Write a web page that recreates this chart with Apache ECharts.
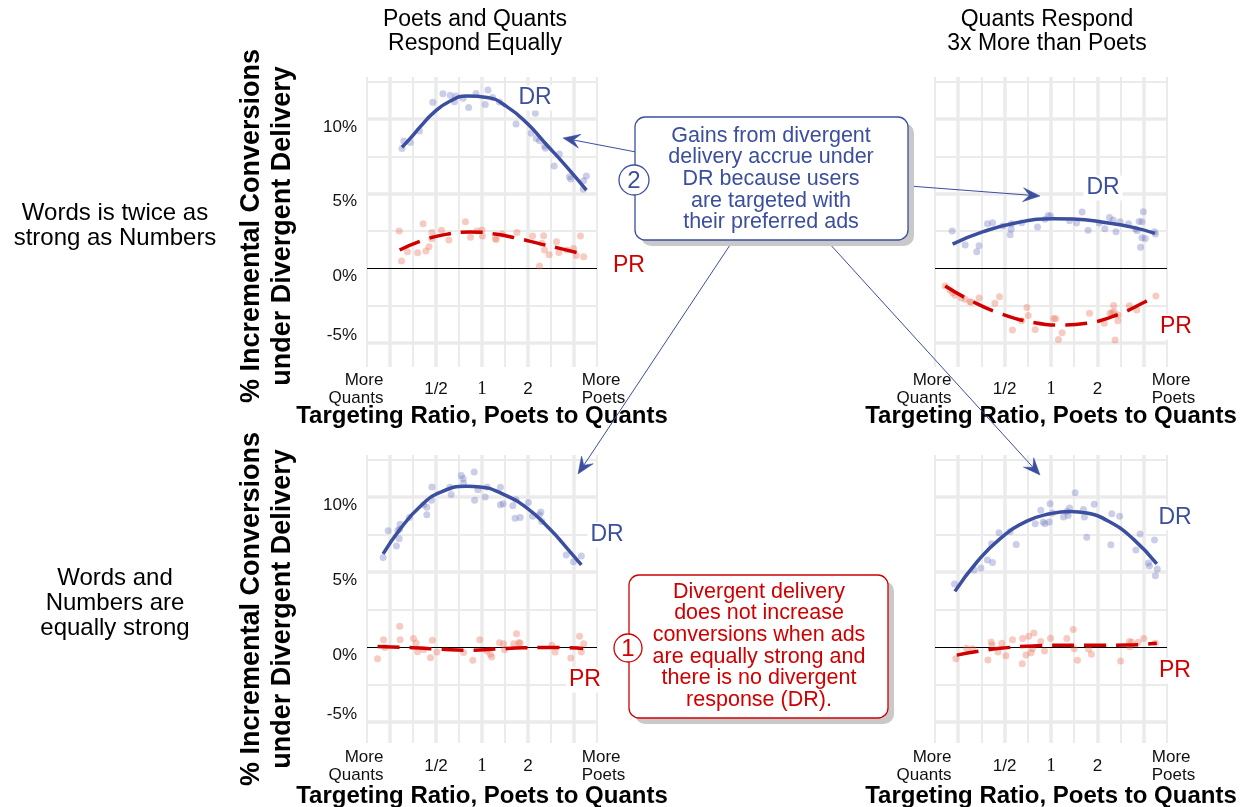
<!DOCTYPE html>
<html><head><meta charset="utf-8">
<script src="https://cdn.jsdelivr.net/npm/echarts@6/dist/echarts.min.js"></script>
<style>html,body{margin:0;padding:0;background:#fff}#c{width:1245px;height:807px}</style>
</head><body><div id="c"></div>
<script>
// ---------- data (x = log2 of targeting ratio Poets:Quants, y = % incremental conversions) ----------
const xTickValues = [-2.5, -1, 0, 1, 2.5];
const xTickLabels = ['More\nQuants', '1/2', '1', '2', 'More\nPoets'];
const yTickValues = [-5, 0, 5, 10];
const yTickLabels = ['-5%', '0%', '5%', '10%'];
const xMajorGrid = [-2, -1, 0, 1, 2];
const xMinorGrid = [-2.5, -1.5, -0.5, 0.5, 1.5, 2.5];
const yMajorGrid = [-5, 5, 10];
const yMinorGrid = [-2.5, 2.5, 7.5, 12.5];
const colTitles = ['Poets and Quants\nRespond Equally', 'Quants Respond\n3x More than Poets'];
const rowLabels = ['Words is twice as\nstrong as Numbers', 'Words and\nNumbers are\nequally strong'];
const yTitle = '% Incremental Conversions\nunder Divergent Delivery';
const xTitle = 'Targeting Ratio, Poets to Quants';
const note2 = 'Gains from divergent\ndelivery accrue under\nDR because users\nare targeted with\ntheir preferred ads';
const note1 = 'Divergent delivery\ndoes not increase\nconversions when ads\nare equally strong and\nthere is no divergent\nresponse (DR).';

// top-left: Words 2x, equal response
const tlDR = [[-1.74,8.03],[-1.70,8.52],[-1.56,8.43],[-1.36,9.19],[-1.07,11.12],[-0.85,11.70],[-0.69,11.59],[-0.60,11.16],[-0.57,11.54],[-0.41,11.39],[-0.29,10.78],[-0.13,11.72],[0.07,10.98],[0.13,11.95],[0.23,11.45],[0.38,11.14],[0.74,9.66],[1.16,10.38],[1.07,9.04],[1.18,8.70],[1.25,8.55],[1.36,8.19],[1.38,8.04],[1.68,7.65],[1.57,6.85],[1.90,6.13],[1.93,5.97],[2.20,5.28],[2.21,5.86],[2.27,6.17]];
const tlPR = [[-1.80,2.48],[-1.75,0.47],[-1.62,1.10],[-1.40,1.03],[-1.28,2.98],[-1.22,1.14],[-1.15,1.43],[-1.09,2.39],[-1.09,1.97],[-0.88,2.53],[-0.72,1.88],[-0.36,3.11],[-0.25,2.06],[-0.11,2.48],[0.00,2.55],[0.01,2.15],[0.29,1.99],[0.31,1.92],[0.44,2.28],[0.76,2.39],[1.10,2.15],[1.25,0.13],[1.30,1.66],[1.34,2.17],[1.36,1.21],[1.46,0.89],[1.62,1.77],[1.67,1.05],[1.85,1.21],[1.99,1.32],[2.05,0.85],[2.14,2.15],[2.21,0.76]];
const tlDRFit = [[-1.74,8.10],[-1.56,8.70],[-1.34,9.49],[-1.05,10.43],[-0.69,11.21],[-0.33,11.54],[0.11,11.45],[0.54,10.83],[0.98,9.71],[1.41,8.26],[1.85,6.76],[2.27,5.23]];
const tlPRFit = [[-1.79,1.21],[-1.27,1.88],[-0.71,2.30],[-0.25,2.42],[0.25,2.30],[0.76,2.00],[1.27,1.62],[1.78,1.25],[2.21,0.92]];

// top-right: Words 2x, Quants respond 3x
const trDR = [[-2.13,2.48],[-1.85,1.54],[-1.60,1.10],[-1.55,1.50],[-1.37,2.98],[-1.26,3.04],[-1.04,2.82],[-0.88,2.24],[-0.86,2.60],[-0.85,2.98],[-0.63,3.04],[-0.29,2.75],[-0.13,3.27],[-0.06,3.53],[-0.01,3.49],[0.40,3.18],[0.55,3.02],[0.67,3.76],[0.80,2.53],[1.04,3.02],[1.16,2.64],[1.26,3.40],[1.34,3.22],[1.40,2.44],[1.49,3.11],[1.67,2.98],[1.82,2.62],[1.86,2.51],[1.90,3.13],[1.93,1.39],[1.96,3.11],[1.96,2.04],[1.99,3.78],[2.03,1.99],[2.23,2.44],[2.25,2.28]];
const trPR = [[-2.28,-1.21],[-2.18,-1.48],[-2.12,-1.66],[-2.07,-1.83],[-1.93,-2.01],[-1.85,-2.10],[-1.75,-2.26],[-1.72,-2.30],[-1.55,-2.01],[-1.21,-2.37],[-1.11,-1.92],[-0.83,-4.16],[-0.63,-3.53],[-0.52,-2.64],[-0.49,-3.18],[-0.34,-4.12],[0.06,-3.38],[0.10,-3.40],[0.16,-4.79],[0.24,-4.34],[0.83,-3.04],[1.15,-3.71],[1.27,-3.04],[1.32,-3.00],[1.35,-2.51],[1.38,-4.83],[1.36,-2.93],[1.44,-3.53],[1.45,-3.15],[1.69,-2.53],[1.85,-2.82],[2.26,-1.88]];
const trDRFit = [[-2.12,1.61],[-1.46,2.44],[-0.74,3.04],[0.05,3.31],[0.48,3.29],[1.20,3.04],[1.77,2.73],[2.24,2.33]];
const trPRFit = [[-2.28,-1.21],[-1.75,-2.15],[-1.10,-3.04],[-0.38,-3.65],[0.27,-3.83],[0.77,-3.71],[1.42,-3.15],[2.03,-2.26],[2.24,-1.88]];

// bottom-left: equal strength, equal response
const blDR = [[-2.15,5.96],[-2.04,7.75],[-1.86,6.74],[-1.83,7.77],[-1.80,7.21],[-1.78,8.19],[-1.79,7.86],[-1.58,8.64],[-1.27,9.49],[-1.20,9.31],[-1.20,8.82],[-1.10,9.78],[-1.09,10.67],[-0.70,10.65],[-0.67,10.16],[-0.45,11.43],[-0.41,11.23],[-0.40,10.94],[-0.17,11.67],[-0.16,9.78],[-0.09,10.49],[0.07,10.00],[0.11,10.67],[0.40,10.65],[0.40,9.49],[0.46,9.55],[0.67,9.42],[0.72,8.59],[0.74,9.82],[0.83,8.64],[1.01,9.64],[1.10,8.71],[1.25,8.82],[1.28,9.00],[1.30,8.37],[1.83,6.14],[1.99,5.69],[2.16,6.07]];
const blPR = [[-2.27,-0.78],[-2.14,0.49],[-2.11,-0.04],[-1.79,1.38],[-1.78,0.49],[-1.49,0.56],[-1.43,0.27],[-1.40,-0.31],[-1.27,-0.18],[-1.12,-0.71],[-1.08,0.45],[-0.98,-0.33],[-0.40,-0.36],[-0.20,-0.89],[-0.05,0.49],[0.11,-0.27],[0.18,-0.49],[0.21,-0.67],[0.38,0.29],[0.47,0.22],[0.49,-0.18],[0.69,0.22],[0.75,0.89],[0.80,0.29],[0.83,0.27],[1.52,0.11],[1.59,-0.33],[1.93,-0.74],[2.12,0.71],[2.16,-0.33],[2.21,0.22]];
const blDRFit = [[-2.15,6.21],[-1.78,7.86],[-1.34,9.38],[-0.91,10.31],[-0.33,10.71],[-0.04,10.67],[0.40,10.27],[0.98,9.26],[1.49,7.81],[1.85,6.58],[2.16,5.47]];
const blPRFit = [[-2.27,0.04],[-1.50,-0.05],[-0.90,-0.15],[-0.30,-0.22],[0.30,-0.14],[0.90,-0.05],[1.50,-0.03],[2.20,-0.10]];

// bottom-right: equal strength, Quants respond 3x
const brDR = [[-2.08,4.20],[-1.66,5.13],[-1.51,5.27],[-1.37,5.80],[-1.26,5.63],[-1.28,6.88],[-1.12,7.61],[-0.88,7.70],[-0.75,6.83],[-0.34,8.21],[-0.22,9.11],[-0.17,8.33],[-0.13,8.21],[-0.04,8.33],[-0.02,9.55],[0.03,8.93],[0.27,8.66],[0.34,9.04],[0.37,8.77],[0.40,9.26],[0.52,10.29],[0.70,9.17],[0.72,8.66],[0.77,7.32],[0.93,9.51],[1.29,6.81],[1.31,8.88],[1.48,8.71],[1.83,6.47],[1.92,7.54],[2.10,5.60],[2.12,5.40],[2.23,7.14],[2.25,4.75],[2.29,5.20]];
const brPR = [[-2.05,-0.78],[-1.82,-0.09],[-1.69,-0.11],[-1.36,-0.87],[-1.29,0.33],[-1.27,0.13],[-1.14,-0.33],[-1.06,0.25],[-0.97,-0.58],[-0.83,0.49],[-0.62,-1.12],[-0.61,0.56],[-0.54,-0.54],[-0.48,0.71],[-0.43,-0.38],[-0.40,-0.11],[-0.37,0.94],[-0.22,0.36],[-0.14,-0.27],[-0.01,0.58],[0.34,0.56],[0.48,1.16],[0.50,-0.11],[0.57,-0.89],[0.81,-0.13],[0.87,-0.49],[1.50,-0.94],[1.69,0.36],[1.70,0.02],[1.74,0.31],[1.88,0.31],[2.00,0.56],[2.25,0.25]];
const brDRFit = [[-2.07,3.71],[-1.60,5.65],[-1.10,7.21],[-0.52,8.39],[-0.02,8.88],[0.41,9.04],[0.77,8.93],[1.27,8.33],[1.77,7.21],[2.28,5.54]];
const brPRFit = [[-2.03,-0.54],[-1.53,-0.27],[-1.10,-0.09],[-0.38,0.07],[0.19,0.11],[0.77,0.11],[1.63,0.13],[2.28,0.25]];

// ---------- styling / layout ----------
const FONT = '"Liberation Sans", Arial, Helvetica, sans-serif';
const SERIF = '"Liberation Serif", "Times New Roman", serif';
const BLUE = '#3b4f9e', RED = '#d10000', GRID = '#ebebeb';
const panels = [
  {box:[367, 77, 230, 290], yr:[-6.64, 12.82], dr:tlDR, pr:tlPR, drFit:tlDRFit, prFit:tlPRFit, yLab:true, lm:22, drL:[535,98], prL:[629,266]},
  {box:[935, 77, 232, 290], yr:[-6.64, 12.82], dr:trDR, pr:trPR, drFit:trDRFit, prFit:trPRFit, yLab:false, lm:22, drL:[1103,188], prL:[1176,327]},
  {box:[367, 455, 230, 288], yr:[-6.4, 12.8], dr:blDR, pr:blPR, drFit:blDRFit, prFit:blPRFit, yLab:true, lm:23, drL:[607,535], prL:[585,680]},
  {box:[935, 455, 232, 288], yr:[-6.4, 12.8], dr:brDR, pr:brPR, drFit:brDRFit, prFit:brPRFit, yLab:false, lm:23, drL:[1175,518], prL:[1175,671]}
];

function idxOf(arr, v){ for (let i=0;i<arr.length;i++) if (Math.abs(arr[i]-v)<1e-6) return i; return -1; }

const grids = [], xAxes = [], yAxes = [], series = [], graphic = [];
panels.forEach((p, i) => {
  grids.push({left:p.box[0], top:p.box[1], width:p.box[2], height:p.box[3], containLabel:false});
  xAxes.push({
    type:'value', gridIndex:i, min:-2.5, max:2.5,
    splitLine:{show:false}, axisLine:{show:false},
    axisTick:{show:false, customValues:xTickValues},
    axisLabel:{
      customValues:xTickValues, showMinLabel:true, showMaxLabel:true,
      margin:p.lm, verticalAlign:'middle', color:'#111', fontSize:17, fontFamily:FONT,
      formatter:(v)=>{
        const k = idxOf(xTickValues, v); if (k<0) return '';
        const t = xTickLabels[k];
        if (k===0) return t.split('\n').map(s=>'{l|'+s+'}').join('\n');
        if (k===xTickValues.length-1) return t.split('\n').map(s=>'{r|'+s+'}').join('\n');
        if (t==='1') return '{s|1}';
        return '{n|'+t+'}';
      },
      rich:{
        l:{align:'right', padding:[0,22,0,0], fontSize:17, fontFamily:FONT, lineHeight:18, color:'#111'},
        r:{align:'left', padding:[0,0,0,13], fontSize:17, fontFamily:FONT, lineHeight:18, color:'#111'},
        s:{fontSize:19, fontFamily:SERIF, color:'#111'},
        n:{fontSize:17, fontFamily:FONT, color:'#111'}
      }
    }
  });
  yAxes.push({
    type:'value', gridIndex:i, min:p.yr[0], max:p.yr[1],
    splitLine:{show:false}, axisLine:{show:false},
    axisTick:{show:false, customValues:yTickValues},
    axisLabel:{
      show:p.yLab, customValues:yTickValues, showMinLabel:true, showMaxLabel:true,
      margin:10, color:'#111', fontSize:17, fontFamily:FONT,
      formatter:(v)=>{
        const k = idxOf(yTickValues, v); if (k<0) return '';
        return (v>=0 ? '{d|' : '{u|') + yTickLabels[k] + '}';
      },
      rich:{
        d:{padding:[16,0,0,0], fontSize:17, fontFamily:FONT, color:'#111'},
        u:{padding:[0,0,15,0], fontSize:17, fontFamily:FONT, color:'#111'}
      }
    }
  });
  const gl = [];
  xMajorGrid.forEach(v=>gl.push({xAxis:v, lineStyle:{color:GRID, width:3.5, type:'solid'}}));
  xMinorGrid.forEach(v=>gl.push({xAxis:v, lineStyle:{color:GRID, width:2, type:'solid'}}));
  yMajorGrid.forEach(v=>gl.push({yAxis:v, lineStyle:{color:GRID, width:3.5, type:'solid'}}));
  yMinorGrid.forEach(v=>gl.push({yAxis:v, lineStyle:{color:GRID, width:2, type:'solid'}}));
  series.push({type:'line', xAxisIndex:i, yAxisIndex:i, data:[], silent:true, z:1,
    markLine:{z:1, silent:true, symbol:['none','none'], label:{show:false}, emphasis:{disabled:true}, data:gl}});
  series.push({type:'line', xAxisIndex:i, yAxisIndex:i, data:[], silent:true, z:2,
    markLine:{z:2, silent:true, symbol:['none','none'], label:{show:false}, emphasis:{disabled:true},
      data:[{yAxis:0, lineStyle:{color:'#000', width:1.2, type:'solid'}}]}});
  series.push({type:'scatter', xAxisIndex:i, yAxisIndex:i, data:p.dr, symbolSize:7, z:3,
    itemStyle:{color:'rgba(112,118,192,0.45)'}});
  series.push({type:'scatter', xAxisIndex:i, yAxisIndex:i, data:p.pr, symbolSize:7, z:3,
    itemStyle:{color:'rgba(232,112,82,0.45)'}});
  series.push({type:'line', xAxisIndex:i, yAxisIndex:i, data:p.drFit, smooth:0.5, showSymbol:false, z:4,
    lineStyle:{color:BLUE, width:3.5}});
  series.push({type:'line', xAxisIndex:i, yAxisIndex:i, data:p.prFit, smooth:0.5, showSymbol:false, z:4,
    lineStyle:{color:RED, width:3.5, type:[22,10]}});
  graphic.push({type:'text', x:p.drL[0], y:p.drL[1], z:50, style:{text:'DR', fill:BLUE, font:'23px '+FONT,
    align:'center', verticalAlign:'middle', backgroundColor:'#fff', padding:[1,3,1,3]}});
  graphic.push({type:'text', x:p.prL[0], y:p.prL[1], z:50, style:{text:'PR', fill:RED, font:'23px '+FONT,
    align:'center', verticalAlign:'middle', backgroundColor:'#fff', padding:[1,3,1,3]}});
});

// titles and labels
[[475,32,colTitles[0]],[1047,32,colTitles[1]]].forEach(t=>graphic.push({type:'text', x:t[0], y:t[1],
  style:{text:t[2], fill:'#000', font:'23px '+FONT, align:'center', verticalAlign:'middle', lineHeight:24}}));
[[115,226,rowLabels[0]],[115,603,rowLabels[1]]].forEach(t=>graphic.push({type:'text', x:t[0], y:t[1],
  style:{text:t[2], fill:'#000', font:'24px '+FONT, align:'center', verticalAlign:'middle', lineHeight:25}}));
[[267,226],[267,609]].forEach(t=>graphic.push({type:'text', x:t[0], y:t[1], rotation:Math.PI/2,
  style:{text:yTitle, fill:'#000', font:'bold 27px '+FONT, align:'center', verticalAlign:'middle', lineHeight:31}}));
[[482,416],[1051,416],[482,796],[1051,796]].forEach(t=>graphic.push({type:'text', x:t[0], y:t[1],
  style:{text:xTitle, fill:'#000', font:'bold 24px '+FONT, align:'center', verticalAlign:'middle'}}));

// arrows
function arrow(x1,y1,x2,y2,color){
  const dx=x2-x1, dy=y2-y1, L=Math.hypot(dx,dy), ux=dx/L, uy=dy/L, nx=-uy, ny=ux;
  const hl=17, hw=7;
  graphic.push({type:'line', z:60, shape:{x1:x1,y1:y1,x2:x2-ux*8,y2:y2-uy*8}, style:{stroke:color, lineWidth:1}});
  graphic.push({type:'polygon', z:61, shape:{points:[[x2,y2],[x2-ux*hl+nx*hw,y2-uy*hl+ny*hw],[x2-ux*hl*0.62,y2-uy*hl*0.62],[x2-ux*hl-nx*hw,y2-uy*hl-ny*hw]]},
    style:{fill:color, stroke:color, lineWidth:0.5}});
}
arrow(636,152,563,138,BLUE);
arrow(909,186,1040,196,BLUE);
arrow(732,242,578,474,BLUE);
arrow(828,242,1040,475,BLUE);

// annotation boxes
function noteBox(x,y,w,h,color,text,tx,ty,cx,cy,cr,num){
  graphic.push({type:'rect', z:70, shape:{x:x+6,y:y+6,width:w,height:h,r:10}, style:{fill:'#c9c9c9'}});
  graphic.push({type:'rect', z:71, shape:{x:x,y:y,width:w,height:h,r:10}, style:{fill:'#fff', stroke:color, lineWidth:1.3}});
  graphic.push({type:'text', z:72, x:tx, y:ty, style:{text:text, fill:color, font:'21.5px '+FONT, align:'center', verticalAlign:'middle', lineHeight:21.7}});
  graphic.push({type:'circle', z:73, shape:{cx:cx,cy:cy,r:cr}, style:{fill:'#fff', stroke:color, lineWidth:1.3}});
  graphic.push({type:'text', z:74, x:cx, y:cy+1, style:{text:num, fill:color, font:'24px '+FONT, align:'center', verticalAlign:'middle'}});
}
noteBox(635,117,273,123,BLUE,note2,771,179,634,180,15,'2');
noteBox(629,575,259,143,RED,note1,759,646,628,648,14,'1');

const chart = echarts.init(document.getElementById('c'), null, {renderer:'canvas'});
chart.setOption({animation:false, backgroundColor:'#fff', grid:grids, xAxis:xAxes, yAxis:yAxes, series:series, graphic:graphic});
</script></body></html>
